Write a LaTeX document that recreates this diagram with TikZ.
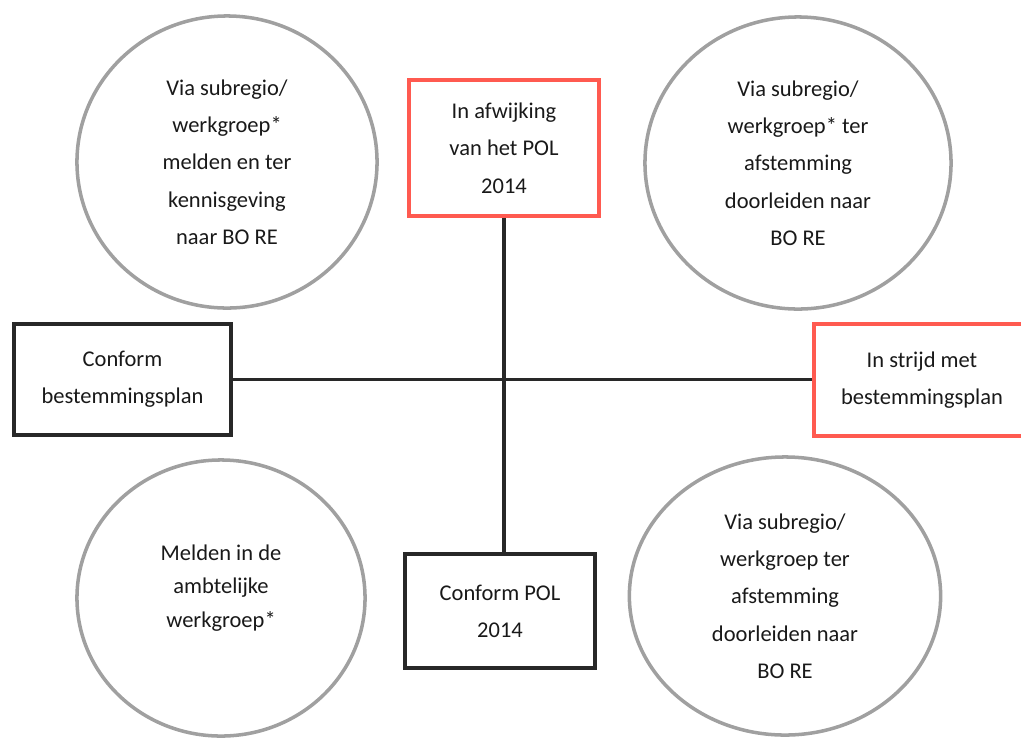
\documentclass[tikz,border=0pt]{standalone}
\usepackage{fontspec}
\setmainfont{Carlito}
\usetikzlibrary{shapes.geometric, calc}
\definecolor{boxred}{RGB}{255,90,80}
\definecolor{boxblack}{RGB}{40,40,40}
\definecolor{ringgray}{RGB}{160,160,160}

\begin{document}
\begin{tikzpicture}[
        x=0.025cm,
        y=-0.025cm,
        every node/.style={font=\fontsize{16}{26.5}\selectfont, text=black!90, align=center},
        ring/.style={ellipse, draw=ringgray, line width=2.5pt, inner sep=0pt},
        choice/.style={rectangle, draw=boxblack, line width=2.8pt, inner sep=0pt},
        deviation/.style={choice, draw=boxred},
        axis/.style={draw=boxblack, line width=2.8pt},
    ]

        \useasboundingbox (0,0) rectangle (1021,739);

        % Draw the four quadrant circles
        \node[ring, minimum width=7.5cm, minimum height=7.3cm] (Q-tl) at (227,162)
            {Via subregio/\\werkgroep*\\melden en ter\\kennisgeving\\naar BO RE};
        \node[ring, minimum width=7.65cm, minimum height=7.3cm] (Q-tr) at (798,163)
            {Via subregio/\\werkgroep* ter\\afstemming\\doorleiden naar\\BO RE};
        \node[ring, minimum width=7.2cm, minimum height=6.9cm, text depth=0.6cm,
              font=\fontsize{16}{24}\selectfont] (Q-bl) at (221,598)
            {Melden in de\\ambtelijke\\werkgroep*};
        \node[ring, minimum width=7.78cm, minimum height=6.95cm] (Q-br) at (785,596)
            {Via subregio/\\werkgroep ter\\afstemming\\doorleiden naar\\BO RE};

        % Draw the boxes at the ends of the axes
        \node[choice, minimum width=5.43cm, minimum height=2.78cm] (conf-bp) at (122.5,379.5)
            {Conform\\bestemmingsplan};
        \node[deviation, minimum width=5.4cm, minimum height=2.8cm] (strijd-bp) at (922,380)
            {In strijd met\\bestemmingsplan};
        \node[deviation, minimum width=4.75cm, minimum height=3.4cm] (afw-pol) at (504,148)
            {In afwijking\\van het POL\\2014};
        \node[choice, minimum width=4.75cm, minimum height=2.85cm] (conf-pol) at (500,611)
            {Conform POL\\2014};

        % Connect the boxes to form the two axes
        \path[axis] (conf-bp.east) -- (conf-bp.east -| strijd-bp.west);
        \path[axis] (afw-pol.south) -- (afw-pol.south |- conf-pol.north);
    \end{tikzpicture}
\end{document}
